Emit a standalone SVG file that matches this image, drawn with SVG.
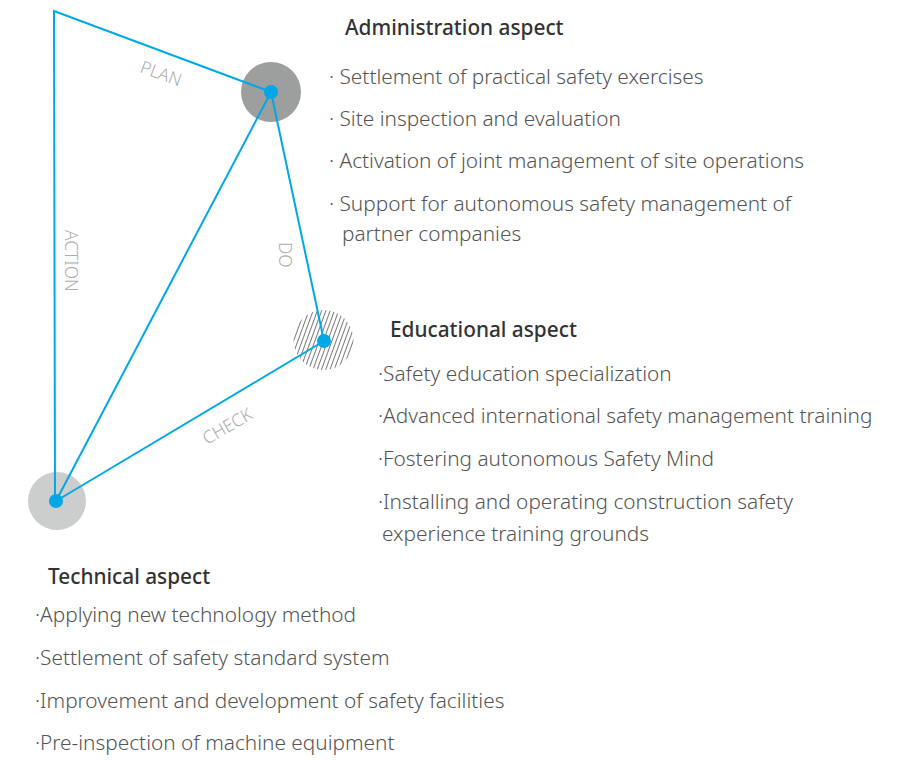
<svg xmlns="http://www.w3.org/2000/svg" width="914" height="760" viewBox="0 0 914 760">
<defs>
<style>
.h{font-family:"Noto Sans","Liberation Sans",sans-serif;font-size:20.8px;font-weight:500;fill:#333}
.t{font-family:"Noto Sans","Liberation Sans",sans-serif;font-size:20.8px;font-weight:300;fill:#555}
.lbl{font-family:"Noto Sans","Liberation Sans",sans-serif;font-size:17.4px;font-weight:300;fill:#adadad}
.edge{stroke:#00a8e6;stroke-width:2;fill:none}
.dot{fill:#00a8e6}
</style>
<pattern id="hatch" patternUnits="userSpaceOnUse" width="4" height="4" patternTransform="rotate(20)">
<line x1="0" y1="0" x2="0" y2="4" stroke="#333" stroke-width="1.3"/>
</pattern>
</defs>
<rect width="914" height="760" fill="#fff"/>
<g id="node-plan"><circle cx="271" cy="92" r="30" fill="#9d9e9e"/></g>
<g id="node-do"><circle cx="323.5" cy="340" r="30" fill="url(#hatch)"/></g>
<g id="node-check"><circle cx="57" cy="501" r="29" fill="#cccdcd"/></g>
<g id="connectors">
<polyline class="edge" points="271,92 54,11 55,501"/>
<line class="edge" x1="271" y1="92" x2="56" y2="501"/>
<line class="edge" x1="271" y1="92" x2="324" y2="341"/>
<line class="edge" x1="324" y1="341" x2="56" y2="501"/>
<text class="lbl" transform="translate(139,72) rotate(20)">PLAN</text>
<text class="lbl" transform="translate(65,230) rotate(90)">ACTION</text>
<text class="lbl" transform="translate(279,242) rotate(90)">DO</text>
<text class="lbl" transform="translate(207,445) rotate(-30)">CHECK</text>
</g>
<g id="dots">
<circle class="dot" cx="271" cy="92" r="7"/>
<circle class="dot" cx="324" cy="341" r="7"/>
<circle class="dot" cx="56" cy="501" r="7"/>
</g>
<g id="admin">
<text class="h" x="345" y="35">Administration aspect</text>
<text class="t" x="329" y="84">· Settlement of practical safety exercises</text>
<text class="t" x="329" y="126">· Site inspection and evaluation</text>
<text class="t" x="329" y="168">· Activation of joint management of site operations</text>
<text class="t" x="329" y="211">· Support for autonomous safety management of</text>
<text class="t" x="342" y="241">partner companies</text>
</g>
<g id="educational">
<text class="h" x="390" y="337">Educational aspect</text>
<text class="t" x="378" y="381">·Safety education specialization</text>
<text class="t" x="378" y="423">·Advanced international safety management training</text>
<text class="t" x="378" y="466">·Fostering autonomous Safety Mind</text>
<text class="t" x="378" y="509">·Installing and operating construction safety</text>
<text class="t" x="382" y="541">experience training grounds</text>
</g>
<g id="technical">
<text class="h" x="48" y="584">Technical aspect</text>
<text class="t" x="35" y="622">·Applying new technology method</text>
<text class="t" x="35" y="665">·Settlement of safety standard system</text>
<text class="t" x="35" y="708">·Improvement and development of safety facilities</text>
<text class="t" x="35" y="750">·Pre-inspection of machine equipment</text>
</g>
</svg>
